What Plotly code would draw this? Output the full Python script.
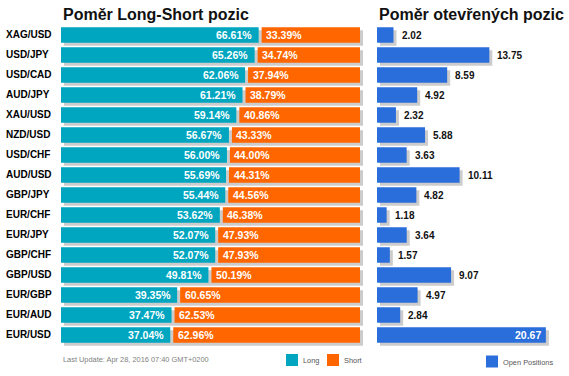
import plotly.graph_objects as go

pairs = ["XAG/USD", "USD/JPY", "USD/CAD", "AUD/JPY", "XAU/USD", "NZD/USD", "USD/CHF", "AUD/USD",
         "GBP/JPY", "EUR/CHF", "EUR/JPY", "GBP/CHF", "GBP/USD", "EUR/GBP", "EUR/AUD", "EUR/USD"]
long_pct = [66.61, 65.26, 62.06, 61.21, 59.14, 56.67, 56.00, 55.69,
            55.44, 53.62, 52.07, 52.07, 49.81, 39.35, 37.47, 37.04]
short_pct = [33.39, 34.74, 37.94, 38.79, 40.86, 43.33, 44.00, 44.31,
             44.56, 46.38, 47.93, 47.93, 50.19, 60.65, 62.53, 62.96]
open_pos = [2.02, 13.75, 8.59, 4.92, 2.32, 5.88, 3.63, 10.11,
            4.82, 1.18, 3.64, 1.57, 9.07, 4.97, 2.84, 20.67]

title_left = "Poměr Long-Short pozic"
title_right = "Poměr otevřených pozic"
last_update = "Last Update: Apr 28, 2016 07:40 GMT+0200"

W, H = 569, 376
TEAL = "#00A6C0"
ORANGE = "#FF6600"
BLUE = "#2A6EDB"
SHADOW = "#CCCCCC"
FONT = "Arial, Liberation Sans, sans-serif"

# pixel geometry
L0, LPX = 61, 2.99          # left panel origin and px per percent
R0, RPX = 377, 8.17         # right panel origin and px per unit
ROW0, ROWH = 35, 20         # first row centre and row pitch
BARW = 15.5 / ROWH
SH = 3                      # shadow offset px
GAP = 1.5 / LPX

lmax, rmax = 102, 23
n = len(pairs)

fig = go.Figure()

# left panel
fig.add_trace(go.Bar(y=pairs, x=[100] * n, base=SH / LPX, orientation="h", width=BARW,
                     offset=-BARW / 2 + SH / ROWH, marker=dict(color=SHADOW, line_width=0),
                     xaxis="x", yaxis="y", hoverinfo="skip", showlegend=False))
fig.add_trace(go.Bar(y=pairs, x=[v - GAP for v in long_pct], base=0, orientation="h", width=BARW,
                     marker=dict(color=TEAL, line_width=0), name="Long", xaxis="x", yaxis="y",
                     showlegend=False))
fig.add_trace(go.Bar(y=pairs, x=[s - GAP for s in short_pct], base=[v + GAP for v in long_pct],
                     orientation="h", width=BARW, marker=dict(color=ORANGE, line_width=0),
                     name="Short", xaxis="x", yaxis="y", showlegend=False))

# right panel
fig.add_trace(go.Bar(y=pairs, x=open_pos, base=SH / RPX, orientation="h", width=BARW,
                     offset=-BARW / 2 + SH / ROWH, marker=dict(color=SHADOW, line_width=0),
                     xaxis="x2", yaxis="y", hoverinfo="skip", showlegend=False))
fig.add_trace(go.Bar(y=pairs, x=open_pos, base=0, orientation="h", width=BARW,
                     marker=dict(color=BLUE, line_width=0), name="Open Positions",
                     xaxis="x2", yaxis="y", showlegend=False))

ann = []
for p, lv, sv, ov in zip(pairs, long_pct, short_pct, open_pos):
    ann.append(dict(x=4 / W, xref="paper", xanchor="left", y=p, yref="y", yshift=1,
                    text=p, showarrow=False,
                    font=dict(family=FONT, size=10, color="#000000", weight="bold")))
    ann.append(dict(x=lv, xref="x", xanchor="right", xshift=-6, y=p, yref="y",
                    text=f"{lv:.2f}%", showarrow=False,
                    font=dict(family=FONT, size=10.5, color="white", weight="bold")))
    ann.append(dict(x=lv, xref="x", xanchor="left", xshift=4, y=p, yref="y",
                    text=f"{sv:.2f}%", showarrow=False,
                    font=dict(family=FONT, size=10.5, color="white", weight="bold")))
    if ov == max(open_pos):
        ann.append(dict(x=ov, xref="x2", xanchor="right", xshift=-3, y=p, yref="y",
                        text=f"{ov:.2f}", showarrow=False,
                        font=dict(family=FONT, size=10.5, color="white", weight="bold")))
    else:
        ann.append(dict(x=ov, xref="x2", xanchor="left", xshift=6, y=p, yref="y",
                        text=f"{ov:.2f}", showarrow=False,
                        font=dict(family=FONT, size=10, color="#111111", weight="bold")))

# titles
ann.append(dict(x=L0 / W, y=1 - 14 / H, xref="paper", yref="paper", xanchor="left",
                yanchor="middle", text=title_left, showarrow=False,
                font=dict(family=FONT, size=16, color="#111111", weight="bold")))
ann.append(dict(x=R0 / W, y=1 - 14 / H, xref="paper", yref="paper", xanchor="left",
                yanchor="middle", text=title_right, showarrow=False,
                font=dict(family=FONT, size=16, color="#111111", weight="bold")))
ann.append(dict(x=61 / W, y=1 - 359 / H, xref="paper", yref="paper", xanchor="left",
                yanchor="middle", text=last_update, showarrow=False,
                font=dict(family=FONT, size=7.4, color="#808080")))

# legends
shapes = []
legend_items = [("Long", TEAL, 286), ("Short", ORANGE, 327), ("Open Positions", BLUE, 486)]
for name, col, x in legend_items:
    yc = 360 if name != "Open Positions" else 361.5
    shapes.append(dict(type="rect", xref="paper", yref="paper", x0=x / W, x1=(x + 12) / W,
                       y0=1 - (yc + 6) / H, y1=1 - (yc - 6) / H, fillcolor=col, line_width=0))
    ann.append(dict(x=(x + 15) / W, y=1 - (yc + 0.5) / H, xref="paper", yref="paper", xanchor="left",
                    yanchor="middle", text=name, showarrow=False,
                    font=dict(family=FONT, size=7.4, color="#555555")))

fig.update_layout(
    width=W, height=H, margin=dict(l=0, r=0, t=0, b=0),
    paper_bgcolor="white", plot_bgcolor="white", barmode="overlay",
    xaxis=dict(domain=[L0 / W, (L0 + lmax * LPX) / W], range=[0, lmax], visible=False, fixedrange=True),
    xaxis2=dict(domain=[R0 / W, (R0 + rmax * RPX) / W], range=[0, rmax], visible=False,
                anchor="y", fixedrange=True),
    yaxis=dict(type="category", categoryorder="array", categoryarray=pairs,
               range=[(H - ROW0) / ROWH, -ROW0 / ROWH], visible=False, domain=[0, 1],
               fixedrange=True),
    annotations=ann, shapes=shapes, showlegend=False,
)

fig.write_html("out.html", config={"displayModeBar": False},
               post_script="document.body.style.margin='0';document.body.style.overflow='hidden';")
